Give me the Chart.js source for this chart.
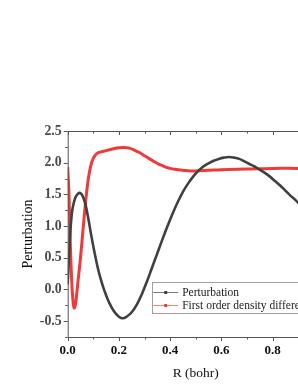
<!DOCTYPE html>
<html>
<head>
<meta charset="utf-8">
<script src="https://cdn.jsdelivr.net/npm/chart.js@4.4.1/dist/chart.umd.min.js"></script>
<style>
  html, body { margin: 0; padding: 0; background: #fff; }
  #wrap { width: 298px; height: 385px; overflow: hidden; position: relative; }
  canvas { display: block; }
</style>
</head>
<body>
<div id="wrap"><canvas id="c" width="340" height="385"></canvas></div>
<script>
// ---- data ----
const seriesNames = ["Perturbation", "First order density difference"];

const perturbX = [0, 0.005, 0.01, 0.015, 0.02, 0.03, 0.04, 0.05, 0.06, 0.07, 0.08, 0.09, 0.1, 0.11, 0.12, 0.13, 0.14, 0.15, 0.16, 0.18, 0.2, 0.215, 0.23, 0.25, 0.27, 0.29, 0.31, 0.33, 0.35, 0.37, 0.39, 0.41, 0.43, 0.45, 0.47, 0.49, 0.51, 0.53, 0.55, 0.57, 0.59, 0.61, 0.63, 0.65, 0.67, 0.69, 0.71, 0.73, 0.75, 0.77, 0.79, 0.81, 0.83, 0.85, 0.87, 0.89, 0.91, 0.93, 0.95, 0.97, 1.0];
const perturbY = [0.08, 0.5, 0.9, 1.15, 1.3, 1.45, 1.51, 1.52, 1.46, 1.33, 1.13, 0.9, 0.68, 0.48, 0.3, 0.15, 0.02, -0.09, -0.19, -0.34, -0.43, -0.455, -0.43, -0.36, -0.24, -0.07, 0.13, 0.35, 0.57, 0.79, 1.0, 1.2, 1.38, 1.54, 1.67, 1.78, 1.87, 1.94, 1.99, 2.03, 2.06, 2.08, 2.09, 2.08, 2.06, 2.02, 1.98, 1.94, 1.89, 1.84, 1.78, 1.71, 1.64, 1.56, 1.48, 1.41, 1.33, 1.25, 1.17, 1.08, 0.96];

const densityX = [0, 0.005, 0.01, 0.015, 0.02, 0.025, 0.03, 0.035, 0.04, 0.05, 0.06, 0.07, 0.08, 0.09, 0.1, 0.11, 0.12, 0.14, 0.16, 0.18, 0.2, 0.22, 0.24, 0.26, 0.28, 0.3, 0.32, 0.34, 0.36, 0.38, 0.4, 0.42, 0.44, 0.46, 0.48, 0.5, 0.55, 0.6, 0.7, 0.8, 0.9, 1.0];
const densityY = [1.93, 1.5, 0.75, 0.2, -0.15, -0.29, -0.24, -0.08, 0.12, 0.5, 0.95, 1.38, 1.73, 1.95, 2.07, 2.13, 2.16, 2.18, 2.2, 2.22, 2.235, 2.24, 2.23, 2.2, 2.16, 2.11, 2.06, 2.01, 1.97, 1.935, 1.91, 1.895, 1.885, 1.875, 1.87, 1.87, 1.88, 1.89, 1.9, 1.91, 1.91, 1.91];

const xTicks = [0, 0.2, 0.4, 0.6, 0.8, 1.0];
const yTicks = [-0.5, 0.0, 0.5, 1.0, 1.5, 2.0, 2.5];

const colors = ["#404040", "#f03a3a"];
const legendLineColors = ["#777777", "#ff8080"];

function pts(xs, ys) { return xs.map((x, i) => ({ x: x, y: ys[i] })); }

const SERIF = "'Liberation Serif', 'Times New Roman', serif";

// axis frame + ticks drawn with the chart's scales
const framePlugin = {
  id: 'frame',
  afterDatasetsDraw(chart) {
    const { ctx, chartArea: a, scales: { x, y } } = chart;
    ctx.save();
    ctx.strokeStyle = '#555';
    ctx.lineWidth = 1;
    ctx.beginPath();
    ctx.moveTo(a.left + 0.5, a.top); ctx.lineTo(a.left + 0.5, a.bottom + 0.5);
    ctx.lineTo(a.right, a.bottom + 0.5);
    ctx.moveTo(a.left, a.top + 0.5); ctx.lineTo(a.right, a.top + 0.5);
    ctx.stroke();
    ctx.beginPath();
    for (let v = 0; v <= 1.0001; v += 0.1) {
      const px = Math.round(x.getPixelForValue(v)) + 0.5;
      const major = Math.abs(Math.round(v * 10) % 2) === 0;
      const len = major ? 4 : 2.5;
      ctx.moveTo(px, a.bottom); ctx.lineTo(px, a.bottom + len);
      ctx.moveTo(px, a.top); ctx.lineTo(px, a.top + len);
    }
    for (let v = -0.75; v <= 2.5001; v += 0.25) {
      const py = Math.round(y.getPixelForValue(v)) + 0.5;
      const major = Math.abs(Math.round(v * 4) % 2) === 0;
      const len = major ? 4 : 2.5;
      ctx.moveTo(a.left, py); ctx.lineTo(a.left - len, py);
    }
    ctx.stroke();
    ctx.restore();
  }
};

const legendPlugin = {
  id: 'customLegend',
  afterDraw(chart) {
    const { ctx, chartArea: a } = chart;
    const L = a.left + 84, T = a.top + 151, W = 190, H = 31;
    ctx.save();
    ctx.fillStyle = '#fff';
    ctx.fillRect(L, T, W, H);
    ctx.strokeStyle = '#a0a0a0';
    ctx.lineWidth = 1;
    ctx.strokeRect(Math.round(L) + 0.5, Math.round(T) + 0.5, W, H);
    ctx.font = '11.5px ' + SERIF;
    ctx.textBaseline = 'middle';
    chart.data.datasets.forEach((ds, i) => {
      const cy = Math.round(T + 9.5 + i * 13.3) + 0.5;
      ctx.strokeStyle = legendLineColors[i];
      ctx.beginPath(); ctx.moveTo(L + 1.5, cy); ctx.lineTo(L + 26.5, cy); ctx.stroke();
      ctx.fillStyle = ds.borderColor;
      ctx.fillRect(L + 12.5, cy - 1.5, 3, 3);
      ctx.fillStyle = '#222';
      ctx.fillText(ds.label, L + 30.5, cy);
    });
    ctx.restore();
  }
};

new Chart(document.getElementById('c'), {
  type: 'line',
  data: {
    datasets: [
      { label: seriesNames[0], data: pts(perturbX, perturbY), borderColor: colors[0], backgroundColor: colors[0], borderWidth: 2.6, pointRadius: 0, tension: 0.4 },
      { label: seriesNames[1], data: pts(densityX, densityY), borderColor: colors[1], backgroundColor: colors[1], borderWidth: 3, pointRadius: 0, tension: 0.4 }
    ]
  },
  options: {
    responsive: false,
    animation: false,
    layout: { padding: { top: 131, right: 16.3, left: 0, bottom: 0 } },
    plugins: { legend: { display: false }, tooltip: { enabled: false } },
    scales: {
      x: {
        type: 'linear', min: 0, max: 1.0,
        grid: { display: false, drawTicks: false },
        border: { display: false },
        afterBuildTicks: s => { s.ticks = xTicks.map(v => ({ value: v })); },
        afterFit: s => { s.height = 48; },
        ticks: { padding: 5.5, color: '#111', font: { family: SERIF, size: 13, weight: 'bold' }, callback: v => v.toFixed(1) },
        title: { display: true, text: 'R (bohr)', color: '#111', font: { family: SERIF, size: 13.5 }, padding: { top: 0, bottom: 3.9 } }
      },
      y: {
        min: -0.75, max: 2.5,
        grid: { display: false, drawTicks: false },
        border: { display: false },
        afterBuildTicks: s => { s.ticks = yTicks.map(v => ({ value: v })); },
        afterFit: s => { s.width = 67.7; },
        ticks: { padding: 6, color: '#4a4a4a', font: { family: SERIF, size: 13.8, weight: 'bold' }, callback: v => v.toFixed(1) },
        title: { display: true, text: 'Perturbation', color: '#111', font: { family: SERIF, size: 14 }, padding: { top: 19.6, bottom: 0 } }
      }
    }
  },
  plugins: [framePlugin, legendPlugin]
});
</script>
</body>
</html>
